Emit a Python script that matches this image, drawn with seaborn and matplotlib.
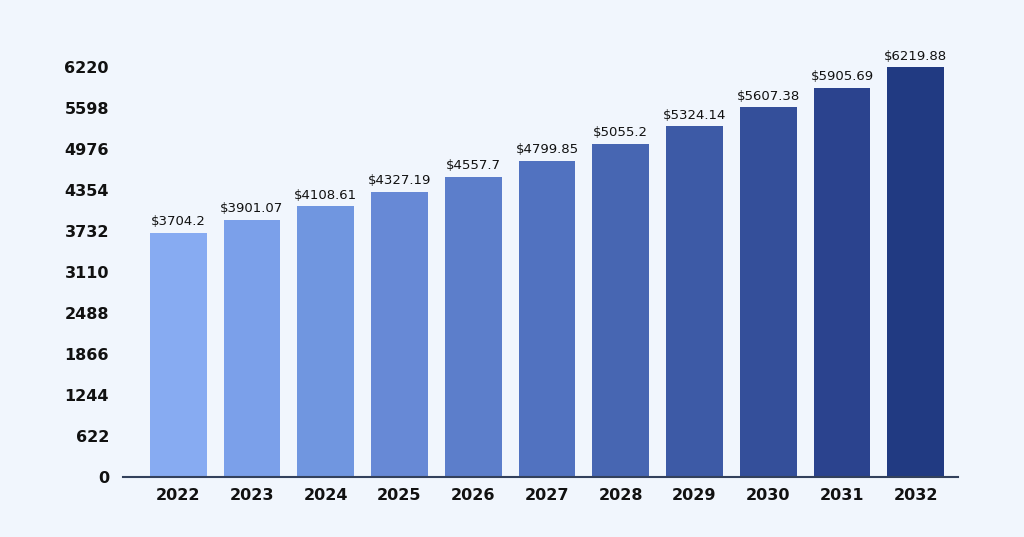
import matplotlib
matplotlib.use("Agg")
import matplotlib.pyplot as plt
import seaborn as sns
import pandas as pd

years = ["2022","2023","2024","2025","2026","2027","2028","2029","2030","2031","2032"]
values = [3704.2, 3901.07, 4108.61, 4327.19, 4557.7, 4799.85, 5055.2, 5324.14, 5607.38, 5905.69, 6219.88]
labels = ["$3704.2","$3901.07","$4108.61","$4327.19","$4557.7","$4799.85","$5055.2","$5324.14","$5607.38","$5905.69","$6219.88"]
yticks = [0, 622, 1244, 1866, 2488, 3110, 3732, 4354, 4976, 5598, 6220]

colors = ["#87abf2","#7ba0ea","#7096e0","#6789d6","#5c7ecb","#5172c0","#4766b2","#3d5aa6","#344f9a","#2b438e","#213a82"]

bg = "#f1f6fd"
df = pd.DataFrame({"year": years, "value": values})
fig = plt.figure(figsize=(10.24, 5.37), dpi=100, facecolor=bg)
ax = fig.add_axes([0.120, 0.112, 0.816, 0.763])
ax.set_facecolor(bg)
sns.barplot(data=df, x="year", y="value", hue="year", palette=colors, legend=False,
            width=0.77, ax=ax, saturation=1)
ax.set_xlim(-0.75, 10.58)
ax.set_ylim(0, 6220)
ax.set_yticks(yticks)
ax.set_yticklabels([str(t) for t in yticks])
for i, (v, l) in enumerate(zip(values, labels)):
    ax.text(i, v + 70, l, ha="center", va="bottom", fontsize=9.5, color="#111111", clip_on=False)
for s in ["top", "right", "left"]:
    ax.spines[s].set_visible(False)
ax.spines["bottom"].set_color("#33415c")
ax.spines["bottom"].set_linewidth(1.5)
ax.tick_params(axis="both", length=0, labelsize=11.5, colors="#111111")
ax.tick_params(axis="x", pad=8)
ax.tick_params(axis="y", pad=10)
for lab in ax.get_xticklabels() + ax.get_yticklabels():
    lab.set_fontweight("semibold")
ax.set_xlabel("")
ax.set_ylabel("")
fig.savefig("out.png", dpi=100, facecolor=bg)
